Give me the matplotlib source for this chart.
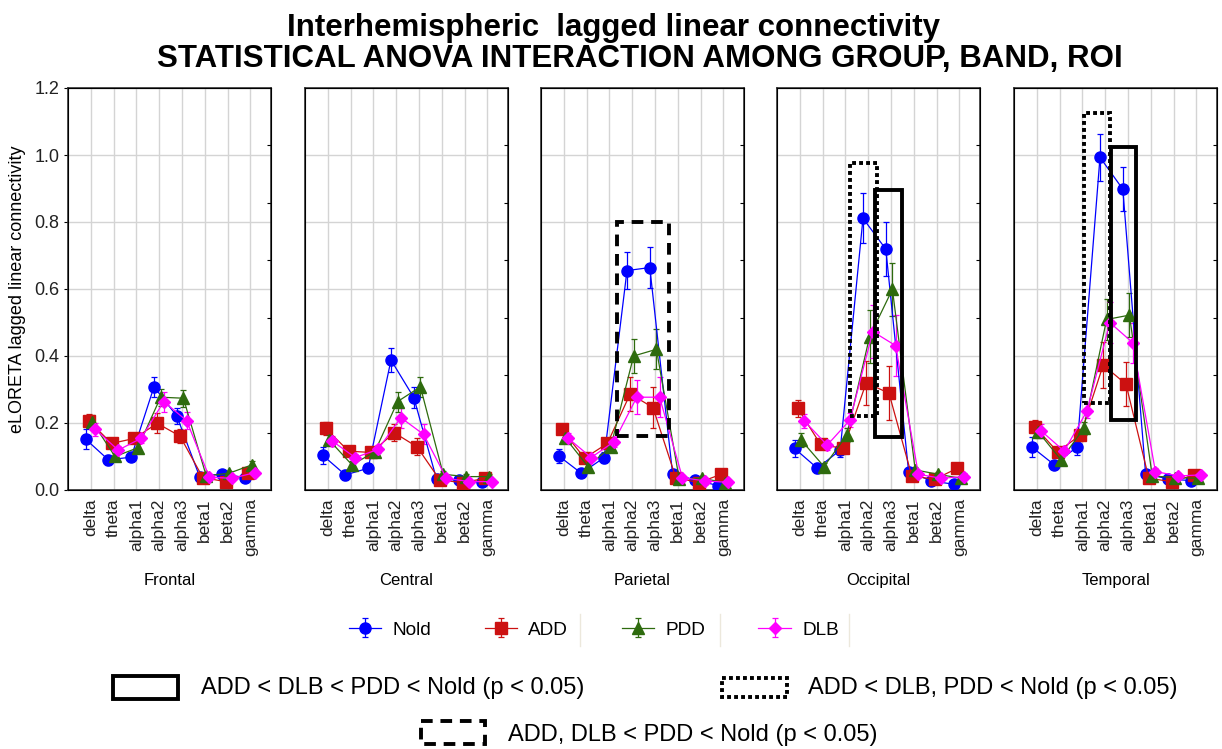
import numpy as np
import matplotlib
matplotlib.use("Agg")
import matplotlib.pyplot as plt
from matplotlib.patches import Rectangle

plt.rcParams['font.family'] = ['Liberation Sans', 'DejaVu Sans']

bands = ['delta', 'theta', 'alpha1', 'alpha2', 'alpha3', 'beta1', 'beta2', 'gamma']
regions = ['Frontal', 'Central', 'Parietal', 'Occipital', 'Temporal']
groups = ['Nold', 'ADD', 'PDD', 'DLB']

# means, one row per region
nold = [[0.152, 0.090, 0.098, 0.308, 0.221, 0.040, 0.048, 0.037],
        [0.104, 0.045, 0.065, 0.388, 0.276, 0.032, 0.030, 0.023],
        [0.102, 0.050, 0.097, 0.655, 0.664, 0.048, 0.030, 0.013],
        [0.124, 0.065, 0.119, 0.811, 0.719, 0.055, 0.027, 0.017],
        [0.129, 0.075, 0.129, 0.993, 0.898, 0.048, 0.033, 0.028]]
add = [[0.207, 0.139, 0.154, 0.199, 0.161, 0.037, 0.025, 0.050],
       [0.184, 0.116, 0.112, 0.171, 0.129, 0.030, 0.022, 0.035],
       [0.181, 0.095, 0.139, 0.287, 0.246, 0.037, 0.022, 0.047],
       [0.244, 0.136, 0.124, 0.320, 0.289, 0.042, 0.032, 0.065],
       [0.189, 0.114, 0.164, 0.373, 0.316, 0.035, 0.025, 0.045]]
pdd = [[0.204, 0.100, 0.126, 0.277, 0.274, 0.042, 0.050, 0.075],
       [0.149, 0.075, 0.114, 0.264, 0.308, 0.047, 0.040, 0.040],
       [0.156, 0.070, 0.129, 0.400, 0.420, 0.033, 0.035, 0.022],
       [0.149, 0.070, 0.164, 0.458, 0.599, 0.060, 0.047, 0.035],
       [0.174, 0.090, 0.184, 0.509, 0.522, 0.042, 0.037, 0.035]]
dlb = [[0.181, 0.119, 0.154, 0.264, 0.207, 0.038, 0.035, 0.052],
       [0.146, 0.097, 0.121, 0.216, 0.166, 0.035, 0.025, 0.025],
       [0.154, 0.097, 0.144, 0.277, 0.277, 0.037, 0.027, 0.023],
       [0.206, 0.134, 0.209, 0.473, 0.431, 0.047, 0.035, 0.040],
       [0.176, 0.116, 0.236, 0.500, 0.440, 0.055, 0.042, 0.045]]

# error bar half-lengths
nold_err = [[0.030, 0.015, 0.012, 0.030, 0.025, 0.010, 0.008, 0.010],
            [0.025, 0.015, 0.012, 0.035, 0.030, 0.008, 0.008, 0.008],
            [0.020, 0.010, 0.015, 0.055, 0.060, 0.010, 0.008, 0.008],
            [0.025, 0.015, 0.020, 0.075, 0.080, 0.010, 0.008, 0.008],
            [0.030, 0.010, 0.025, 0.070, 0.065, 0.010, 0.008, 0.008]]
add_err = [[0.020, 0.015, 0.015, 0.030, 0.020, 0.010, 0.008, 0.010],
           [0.020, 0.012, 0.012, 0.025, 0.025, 0.008, 0.008, 0.008],
           [0.015, 0.012, 0.015, 0.050, 0.060, 0.010, 0.008, 0.010],
           [0.025, 0.012, 0.015, 0.065, 0.080, 0.010, 0.008, 0.012],
           [0.020, 0.012, 0.018, 0.070, 0.065, 0.008, 0.008, 0.008]]
pdd_err = [[0.020, 0.010, 0.015, 0.025, 0.025, 0.010, 0.008, 0.012],
           [0.015, 0.012, 0.012, 0.030, 0.030, 0.010, 0.008, 0.008],
           [0.015, 0.010, 0.015, 0.050, 0.060, 0.010, 0.008, 0.008],
           [0.020, 0.012, 0.020, 0.080, 0.080, 0.010, 0.008, 0.008],
           [0.020, 0.012, 0.020, 0.060, 0.065, 0.010, 0.008, 0.008]]
dlb_err = [[0.020, 0.012, 0.015, 0.030, 0.025, 0.008, 0.008, 0.008],
           [0.015, 0.010, 0.012, 0.030, 0.030, 0.008, 0.008, 0.008],
           [0.015, 0.010, 0.015, 0.050, 0.060, 0.008, 0.008, 0.008],
           [0.020, 0.015, 0.020, 0.080, 0.090, 0.010, 0.008, 0.010],
           [0.020, 0.012, 0.020, 0.060, 0.060, 0.010, 0.008, 0.008]]

# significance boxes: region index, x0, x1, y0, y1, kind
sig_boxes = [(2, 2.35, 4.60, 0.160, 0.800, 'dashed'),
             (3, 2.19, 3.37, 0.221, 0.975, 'dotted'),
             (3, 3.30, 4.50, 0.159, 0.897, 'solid'),
             (4, 2.06, 3.23, 0.260, 1.126, 'dotted'),
             (4, 3.26, 4.37, 0.209, 1.025, 'solid')]

means = [nold, add, pdd, dlb]
errs = [nold_err, add_err, pdd_err, dlb_err]
colors = ['#0000ff', '#cc1111', '#2e6b0e', '#ff00ff']
markers = ['o', 's', '^', 'D']
msizes = [8, 8, 8, 6.5]
offsets = [-0.23, -0.09, 0.06, 0.2]
box_ls = {'solid': '-', 'dotted': (0, (1, 0.8)), 'dashed': (0, (3, 2))}

fig = plt.figure(figsize=(12.22, 7.49), dpi=100)
lefts = [68, 305, 541, 777, 1014]
x = np.arange(len(bands))
handles = []
for r, reg in enumerate(regions):
    ax = fig.add_axes([lefts[r] / 1222, 1 - 490 / 749, 203 / 1222, 402 / 749])
    for g in range(4):
        h = ax.errorbar(x + offsets[g], means[g][r], yerr=errs[g][r], color=colors[g],
                        marker=markers[g], markersize=msizes[g], linewidth=0.9,
                        elinewidth=0.9, capsize=2.5, capthick=0.9, zorder=3)
        if r == 0:
            handles.append(h)
    for (ri, x0, x1, y0, y1, kind) in sig_boxes:
        if ri == r:
            ax.add_patch(Rectangle((x0, y0), x1 - x0, y1 - y0, fill=False, edgecolor='black',
                                   linewidth=2.8, linestyle=box_ls[kind], zorder=4))
    ax.set_xlim(-1, 7.9)
    ax.set_ylim(0, 1.2)
    ax.set_xticks(x)
    ax.set_xticklabels(bands, rotation=90, fontsize=12.5, color='#222222')
    ax.set_yticks(np.arange(0, 1.21, 0.2))
    ax.grid(True, color='#d4d4d4', linewidth=1)
    ax.set_axisbelow(True)
    ax.tick_params(axis='x', length=0, pad=6)
    if r == 0:
        ax.set_yticklabels([f'{v:.1f}' for v in np.arange(0, 1.21, 0.2)], fontsize=13,
                           color='#222222')
        ax.tick_params(axis='y', length=3, pad=3)
        ax.set_ylabel('eLORETA lagged linear connectivity', fontsize=13, labelpad=6)
    else:
        ax.tick_params(axis='y', length=0, labelleft=False)
    for s in ax.spines.values():
        s.set_color('#333333')
        s.set_linewidth(1.2)
    ax2 = ax.twinx()
    ax2.set_ylim(0, 1.4)
    ax2.set_yticks(np.arange(0.2, 1.25, 0.2))
    ax2.tick_params(axis='y', direction='in', length=3, labelright=False)
    ax.text(0.5, -0.225, reg, transform=ax.transAxes, ha='center', va='center', fontsize=12)

fig.text(0.502, 0.962, 'Interhemispheric  lagged linear connectivity', ha='center', va='center',
         fontsize=22.5, fontweight='bold')
fig.text(0.524, 0.921, 'STATISTICAL ANOVA INTERACTION AMONG GROUP, BAND, ROI', ha='center',
         va='center', fontsize=22.5, fontweight='bold')

fig.legend(handles, groups, loc='center', bbox_to_anchor=(0.486, 0.159), ncol=4, frameon=False,
           fontsize=13.7, columnspacing=2.8, handlelength=1.7, handletextpad=0.6)

# significance legend
lax = fig.add_axes([0, 0, 1, 1])
lax.set_xlim(0, 1222)
lax.set_ylim(749, 0)
lax.axis('off')
for sx in [580, 720, 849]:
    lax.plot([sx, sx], [614, 646], color='#ece8dc', linewidth=1)
sig_items = [((113, 676, 65, 23), 'solid', 201, 688, 'ADD < DLB < PDD < Nold (p < 0.05)'),
             ((722, 678, 65, 19), 'dotted', 808, 688, 'ADD < DLB, PDD < Nold (p < 0.05)'),
             ((421, 721, 64, 23), 'dashed', 508, 735, 'ADD, DLB < PDD < Nold (p < 0.05)')]
for (bx, by, bw, bh), kind, tx, ty, label in sig_items:
    lax.add_patch(Rectangle((bx, by), bw, bh, fill=False, edgecolor='black', linewidth=2.8,
                            linestyle=box_ls[kind]))
    lax.text(tx, ty, label, ha='left', va='center', fontsize=17)

fig.savefig('out.png', dpi=100)
